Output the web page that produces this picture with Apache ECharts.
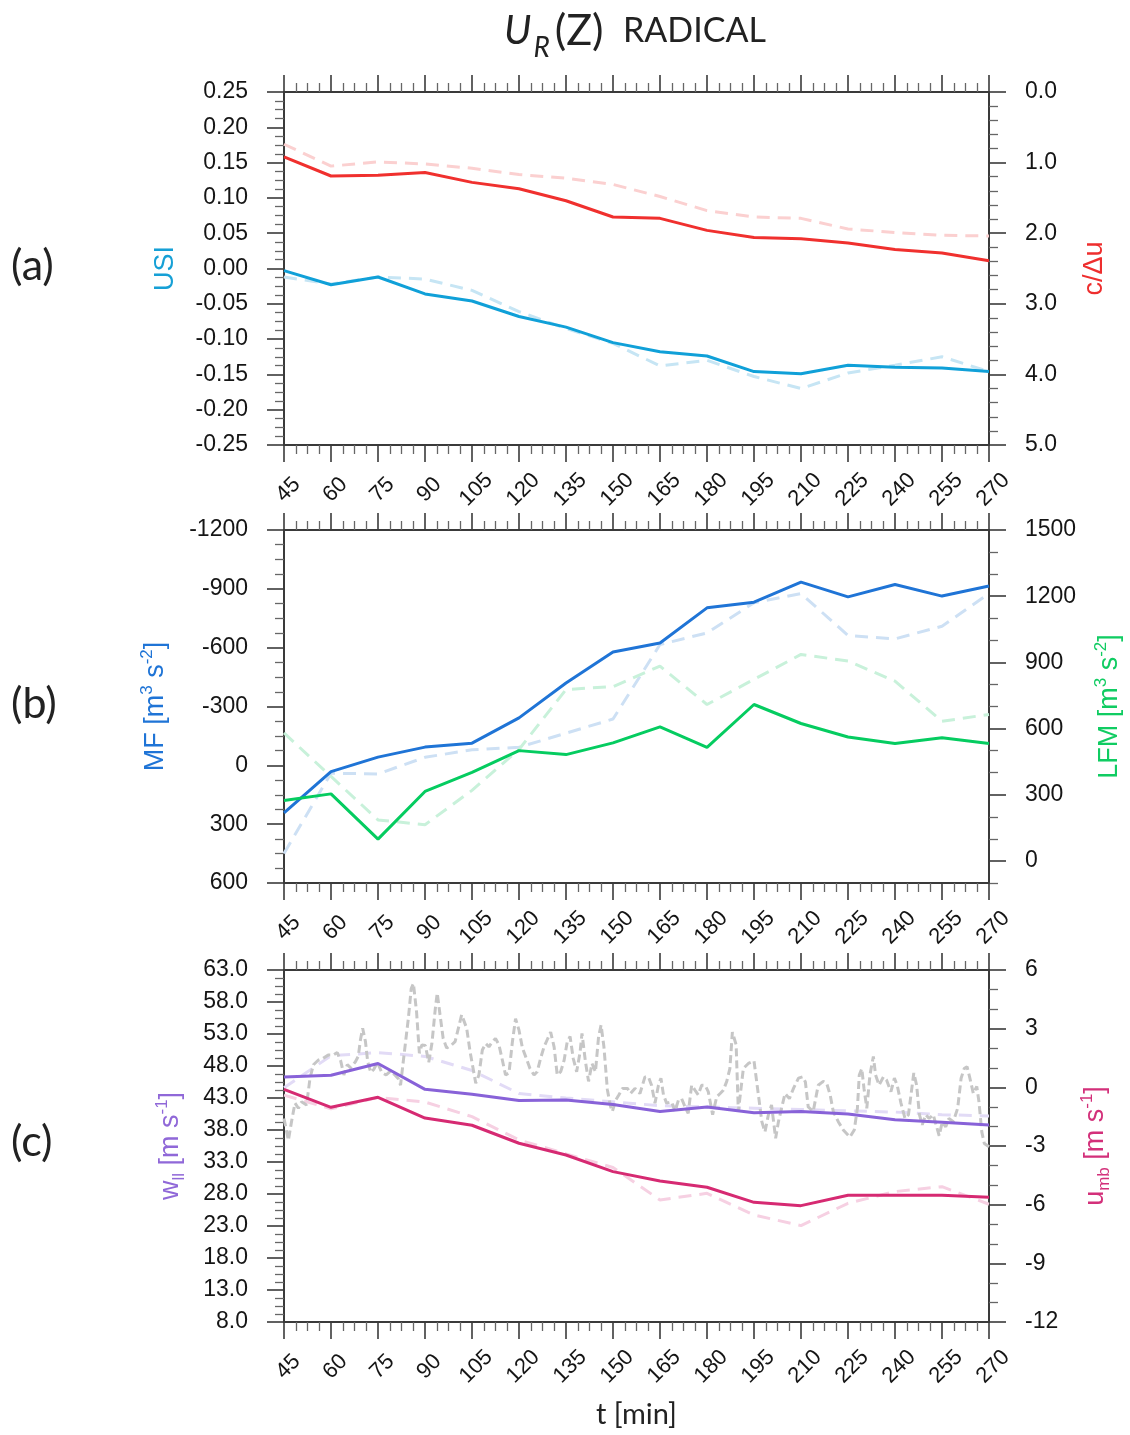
<!DOCTYPE html>
<html>
<head>
<meta charset="utf-8">
<title>UR(Z) RADICAL</title>
<script src="https://cdn.jsdelivr.net/npm/echarts@6/dist/echarts.min.js"></script>
<style>
html, body { margin: 0; padding: 0; background: #fff; }
#chart { width: 1130px; height: 1435px; }
</style>
</head>
<body>
<div id="chart"></div>
<script>
// output times [min]
var times = [45, 60, 75, 90, 105, 120, 135, 150, 165, 180, 195, 210, 225, 240, 255, 270];

// (a) USI (left) and c/du (right)
var usiSolid = [-0.003, -0.023, -0.012, -0.036, -0.046, -0.068, -0.083, -0.105, -0.118, -0.124, -0.146, -0.149, -0.137, -0.140, -0.141, -0.146];
var usiDash = [-0.012, -0.022, -0.012, -0.015, -0.031, -0.061, -0.085, -0.106, -0.138, -0.130, -0.153, -0.170, -0.148, -0.137, -0.125, -0.146];
var cduSolid = [0.92, 1.19, 1.18, 1.14, 1.28, 1.37, 1.54, 1.77, 1.79, 1.96, 2.06, 2.08, 2.14, 2.23, 2.28, 2.39];
var cduDash = [0.74, 1.05, 0.99, 1.02, 1.08, 1.17, 1.22, 1.31, 1.48, 1.68, 1.77, 1.79, 1.94, 1.99, 2.03, 2.04];

// (b) MF (left, inverted) and LFM (right)
var mfSolid = [242, 32, -42, -93, -113, -242, -420, -578, -624, -803, -832, -934, -859, -922, -863, -914];
var mfDash = [449, 40, 44, -41, -79, -92, -164, -236, -616, -675, -829, -876, -662, -645, -709, -876];
var lfmSolid = [274, 304, 99, 315, 401, 500, 482, 535, 608, 515, 709, 623, 562, 532, 558, 532];
var lfmDash = [580, 383, 186, 164, 320, 505, 777, 790, 883, 709, 823, 936, 906, 815, 633, 664];

// (c) w_ll (left) and u_mb (right)
var wSolid = [46.3, 46.55, 48.4, 44.35, 43.6, 42.6, 42.7, 42.0, 40.9, 41.6, 40.7, 40.9, 40.5, 39.6, 39.2, 38.8];
var wDash = [44.6, 49.6, 50.1, 49.5, 47.3, 43.7, 43.0, 42.4, 41.8, 41.6, 41.4, 41.2, 41.0, 40.8, 40.4, 40.2];
var umbSolid = [-0.1, -1.02, -0.51, -1.57, -1.94, -2.86, -3.46, -4.31, -4.79, -5.11, -5.88, -6.05, -5.52, -5.52, -5.52, -5.62];
var umbDash = [-0.4, -1.1, -0.52, -0.75, -1.5, -2.69, -3.40, -4.1, -5.76, -5.42, -6.53, -7.07, -5.93, -5.33, -5.08, -5.98];

// (c) high frequency w (grey dashed)
var grayT = [45.0, 46.4, 47.4, 48.5, 49.6, 50.6, 52.2, 53.3, 54.4, 55.9, 57.5, 59.1, 60.7, 62.0, 63.1, 64.1, 65.2, 66.3, 67.7, 68.7,
    69.4, 70.1, 71.0, 71.7, 72.7, 73.7, 74.8, 76.2, 77.6, 79.0, 80.4, 81.5, 82.2, 83.3, 84.7, 85.6, 86.3, 87.3, 88.2, 89.0,
    90.1, 91.2, 92.2, 93.3, 93.9, 94.8, 95.8, 96.9, 98.5, 99.6, 101.7, 103.3, 104.4, 106.2, 107.2, 108.3, 109.4, 110.4, 111.5, 112.5,
    113.6, 114.7, 115.7, 116.8, 117.9, 118.9, 120.0, 121.1, 122.1, 123.5, 124.8, 125.8, 126.9, 128.0, 129.0, 130.1, 131.2, 132.2, 133.3, 134.4,
    135.4, 136.3, 137.3, 138.4, 139.5, 140.1, 141.2, 142.2, 143.3, 144.4, 145.4, 146.2, 147.1, 148.2, 149.2, 149.8, 150.9, 151.9, 153.0, 154.6,
    155.6, 157.0, 158.6, 160.2, 161.3, 162.3, 163.4, 164.5, 165.3, 166.1, 167.1, 168.7, 169.8, 170.9, 171.9, 173.0, 174.0, 175.1, 176.2, 177.2,
    178.3, 179.4, 180.4, 181.8, 183.1, 184.2, 185.2, 186.3, 187.3, 188.1, 189.3, 190.0, 191.6, 193.2, 195.0, 196.4, 197.5, 198.5, 199.6, 200.6,
    201.9, 202.8, 203.8, 204.9, 206.3, 207.6, 209.2, 210.5, 211.4, 212.3, 213.9, 215.5, 217.1, 218.2, 219.3, 220.3, 221.9, 223.5, 225.6, 227.0,
    228.0, 228.6, 229.4, 230.1, 231.0, 232.0, 233.1, 233.8, 234.9, 236.3, 237.3, 238.7, 239.8, 240.7, 241.9, 243.2, 244.3, 245.1, 246.0, 246.9,
    247.8, 248.7, 249.8, 250.9, 252.2, 253.0, 254.1, 255.1, 256.2, 257.2, 258.6, 260.0, 261.1, 262.1, 263.0, 263.9, 265.0, 266.1, 266.8, 267.7,
    268.5, 270.0];
var grayW = [39.8, 36.4, 39.3, 42.2, 41.4, 42.4, 41.9, 46.1, 48.2, 48.9, 49.2, 49.7, 49.7, 50.1, 48.8, 46.6, 48.2, 47.7, 48.6, 49.5,
    52.1, 53.9, 51.8, 48.7, 47.0, 47.5, 48.6, 47.0, 46.6, 47.2, 46.6, 46.0, 45.0, 49.7, 55.5, 60.1, 60.9, 56.5, 50.0, 51.3,
    51.2, 48.6, 51.5, 57.0, 59.4, 56.0, 52.3, 50.8, 51.3, 51.8, 56.0, 53.9, 50.2, 45.3, 46.6, 50.5, 51.5, 51.0, 51.8, 52.3,
    51.3, 48.9, 46.6, 46.9, 51.8, 55.4, 53.6, 50.8, 49.5, 47.6, 46.6, 47.1, 49.2, 51.0, 52.1, 53.3, 51.0, 46.6, 47.1, 48.9,
    51.8, 52.6, 49.2, 47.1, 50.2, 53.1, 48.7, 45.6, 48.4, 47.1, 52.6, 54.4, 51.0, 44.3, 41.7, 40.9, 42.7, 43.5, 44.5, 44.5,
    43.7, 44.5, 43.7, 46.3, 46.3, 45.0, 42.2, 45.0, 46.1, 43.5, 42.2, 42.4, 40.9, 42.7, 42.9, 41.6, 40.6, 45.0, 44.2, 43.5,
    45.0, 45.0, 44.0, 40.4, 43.2, 43.7, 44.2, 45.6, 47.6, 53.3, 51.3, 40.9, 47.6, 48.4, 48.8, 43.5, 39.3, 37.7, 40.4, 41.9,
    36.7, 39.3, 41.4, 43.7, 42.9, 44.5, 46.1, 46.3, 45.5, 41.6, 40.9, 45.0, 45.6, 45.3, 43.5, 40.9, 39.3, 38.0, 36.9, 38.0,
    41.4, 46.6, 47.6, 44.5, 41.4, 46.6, 49.5, 46.6, 45.0, 46.3, 45.8, 44.0, 46.1, 45.0, 42.2, 39.8, 40.4, 43.5, 46.9, 45.0,
    40.4, 38.8, 40.4, 39.8, 40.4, 39.0, 37.1, 39.3, 38.5, 39.8, 39.3, 41.4, 46.1, 47.6, 47.9, 46.1, 43.7, 44.8, 42.4, 37.7,
    35.9, 35.4];

// tick labels that do not start at a multiple of the step
var lfmLabels = [0, 300, 600, 900, 1200, 1500];
var wLabels = [8, 13, 18, 23, 28, 33, 38, 43, 48, 53, 58, 63];

var axisColor = '#3a3a3a';
var txtFont = 'Liberation Sans';
var titleFont = 'Lato';

var grids = [
    { left: 284, top: 92, width: 705, height: 353, outerBoundsMode: 'none' },
    { left: 284, top: 530, width: 705, height: 353, outerBoundsMode: 'none' },
    { left: 284, top: 970, width: 705, height: 352, outerBoundsMode: 'none' }
];

$init();

function $init() {
    var myChart = echarts.init(document.getElementById('chart'), null, { renderer: 'canvas' });
    var option = {
        animation: false,
        backgroundColor: '#fff',
        title: {
            left: 504,
            top: 0,
            padding: 0,
            text: '{u|U}{r|R}{p|(Z)}{t|  RADICAL}',
            textStyle: {
                fontWeight: 'normal',
                rich: {
                    u: { fontFamily: titleFont, fontStyle: 'italic', fontWeight: 'normal', fontSize: 40, color: '#222', verticalAlign: 'middle', lineHeight: 62 },
                    r: { fontFamily: titleFont, fontStyle: 'italic', fontWeight: 'normal', fontSize: 28, color: '#222', verticalAlign: 'bottom', padding: [0, 0, 0, 2] },
                    p: { fontFamily: titleFont, fontWeight: 'normal', fontSize: 43, color: '#222', verticalAlign: 'middle', padding: [0, 0, 0, 5] },
                    t: { fontFamily: titleFont, fontWeight: 'normal', fontSize: 34, color: '#222', verticalAlign: 'middle', padding: [0, 0, 0, 2] }
                }
            }
        },
        graphic: panelLetters(),
        grid: grids,
        xAxis: [
            timeAxis(0, 'bottom'), timeAxis(0, 'top'),
            timeAxis(1, 'bottom'), timeAxis(1, 'top'),
            timeAxis(2, 'bottom'), timeAxis(2, 'top')
        ],
        yAxis: [
            // (a)
            valueAxis(0, 'left', {
                min: -0.25, max: 0.25, interval: 0.05, split: 4,
                fmt: function(v) { return Math.abs(v) < 1e-9 ? '0.00' : v.toFixed(2); },
                name: '{n|USI}', color: '#16a0d6', gap: 101
            }),
            valueAxis(0, 'right', {
                min: 0, max: 5, interval: 1, split: 5, inverse: true,
                fmt: function(v) { return v.toFixed(1); },
                name: '{n|c/\u0394u}', color: '#ee2e2e', gap: 89
            }),
            // (b)
            valueAxis(1, 'left', {
                min: -1200, max: 600, interval: 300, split: 4, inverse: true,
                fmt: function(v) { return String(v); },
                name: '{n|MF [m}{sup|3}{n| s}{sup|-2}{n|]}', color: '#1f74d6', gap: 111
            }),
            valueAxis(1, 'right', {
                min: -100, max: 1500, custom: lfmLabels,
                fmt: function(v) { return String(v); },
                name: '{n|LFM [m}{sup|3}{n| s}{sup|-2}{n|]}', color: '#10cc62', gap: 104
            }),
            minorAxis(1, -100, 1500, 100, lfmLabels),
            // (c)
            valueAxis(2, 'left', {
                min: 8, max: 63, custom: wLabels,
                fmt: function(v) { return v.toFixed(1); },
                name: '{n|w}{sub|ll}{n| [m s}{sup|-1}{n|]}', color: '#9068d8', gap: 96
            }),
            minorAxis(2, 8, 63, 1.25, wLabels),
            valueAxis(2, 'right', {
                min: -12, max: 6, interval: 3, split: 3,
                fmt: function(v) { return String(v); },
                name: '{n|u}{sub|mb}{n| [m s}{sup|-1}{n|]}', color: '#d3307a', gap: 90
            })
        ],
        series: [
            line('usiDash', 0, 0, times, usiDash, '#c6e5f4', true),
            line('cduDash', 0, 1, times, cduDash, '#fbd0d0', true),
            line('usiSolid', 0, 0, times, usiSolid, '#10a0d8', false),
            line('cduSolid', 0, 1, times, cduSolid, '#f0302e', false),

            line('mfDash', 2, 2, times, mfDash, '#cde0f4', true),
            line('lfmDash', 2, 3, times, lfmDash, '#c8f1da', true),
            line('mfSolid', 2, 2, times, mfSolid, '#1f74d6', false),
            line('lfmSolid', 2, 3, times, lfmSolid, '#05cc60', false),

            line('wDash', 4, 5, times, wDash, '#e2dbf6', true),
            line('umbDash', 4, 7, times, umbDash, '#f6d0e2', true),
            grayLine(),
            line('wSolid', 4, 5, times, wSolid, '#8862d8', false),
            line('umbSolid', 4, 7, times, umbSolid, '#d62a72', false)
        ]
    };
    myChart.setOption(option);
}

//x axis, ticks outward on both sides
function timeAxis(grid, pos) {
    var bottom = pos === 'bottom';
    var ax = {
        type: 'value',
        gridIndex: grid,
        position: pos,
        min: 45,
        max: 270,
        interval: 15,
        axisLine: { show: true, onZero: false, lineStyle: { color: axisColor, width: 2 } },
        axisTick: { show: true, length: 17, lineStyle: { color: axisColor, width: 1.6 } },
        minorTick: { show: true, splitNumber: 4, length: 9, lineStyle: { color: '#666', width: 1.3 } },
        splitLine: { show: false },
        minorSplitLine: { show: false },
        axisLabel: {
            show: bottom,
            rotate: 45,
            align: 'center',
            verticalAlign: 'middle',
            margin: 49,
            padding: [0, 0, 0, 12],
            fontFamily: txtFont,
            fontSize: 22,
            color: '#151515'
        }
    };
    if (bottom && grid === 2) {
        ax.name = 't [min]';
        ax.nameLocation = 'middle';
        ax.nameGap = 78;
        ax.nameTextStyle = { fontFamily: titleFont, fontSize: 29, color: '#222' };
    }
    return ax;
}

function valueAxis(grid, pos, o) {
    var ax = {
        type: 'value',
        gridIndex: grid,
        position: pos,
        min: o.min,
        max: o.max,
        inverse: !!o.inverse,
        axisLine: { show: true, onZero: false, lineStyle: { color: axisColor, width: 2 } },
        axisTick: { show: true, length: 17, lineStyle: { color: axisColor, width: 1.6 } },
        splitLine: { show: false },
        minorSplitLine: { show: false },
        axisLabel: {
            show: true,
            margin: 36,
            fontFamily: txtFont,
            fontSize: 23,
            color: '#151515',
            formatter: o.fmt
        },
        name: o.name,
        nameLocation: 'middle',
        nameRotate: 90,
        nameGap: o.gap,
        nameTextStyle: nameStyle(o.color)
    };
    if (o.custom) {
        ax.axisLabel.customValues = o.custom;
        ax.axisTick.customValues = o.custom;
    } else {
        ax.interval = o.interval;
        ax.minorTick = { show: true, splitNumber: o.split, length: 9, lineStyle: { color: '#666', width: 1.3 } };
    }
    return ax;
}

// extra axis just for short ticks when the major ticks are custom
function minorAxis(grid, min, max, step, majors) {
    var vals = [];
    var n = Math.round((max - min) / step);
    for (var i = 0; i <= n; i++) {
        var v = min + i * step;
        var isMajor = majors.some(function(m) { return Math.abs(m - v) < 1e-6; });
        if (!isMajor) vals.push(v);
    }
    var pos = grid === 1 ? 'right' : 'left';
    return {
        type: 'value',
        gridIndex: grid,
        position: pos,
        min: min,
        max: max,
        axisLine: { show: false },
        axisTick: { show: true, length: 9, customValues: vals, lineStyle: { color: '#666', width: 1.3 } },
        axisLabel: { show: false },
        splitLine: { show: false }
    };
}

function nameStyle(color) {
    return {
        color: color,
        fontFamily: txtFont,
        fontSize: 27,
        lineHeight: 34,
        rich: {
            n: { color: color, fontFamily: txtFont, fontSize: 27, verticalAlign: 'middle' },
            sup: { color: color, fontFamily: txtFont, fontSize: 17, verticalAlign: 'top' },
            sub: { color: color, fontFamily: txtFont, fontSize: 17, verticalAlign: 'bottom' }
        }
    };
}

function line(name, xi, yi, xs, ys, color, dashed) {
    var pts = [];
    for (var i = 0; i < xs.length; i++) {
        pts.push([xs[i], ys[i]]);
    }
    return {
        name: name,
        type: 'line',
        xAxisIndex: xi,
        yAxisIndex: yi,
        data: pts,
        showSymbol: false,
        symbol: 'none',
        silent: true,
        lineStyle: { color: color, width: 3, type: dashed ? [13, 8] : 'solid' }
    };
}

function grayLine() {
    var s = line('wRaw', 4, 5, grayT, grayW, '#c6c6c6', true);
    s.lineStyle.type = [8, 4];
    s.lineStyle.width = 3;
    return s;
}

function panelLetters() {
    var ys = [270, 708, 1146];
    var labs = ['(a)', '(b)', '(c)'];
    var out = [];
    for (var i = 0; i < 3; i++) {
        out.push({
            type: 'text',
            left: 11,
            top: ys[i] - 25,
            style: { text: labs[i], fontFamily: titleFont, fontSize: 43, fill: '#222' }
        });
    }
    return out;
}
</script>
</body>
</html>
